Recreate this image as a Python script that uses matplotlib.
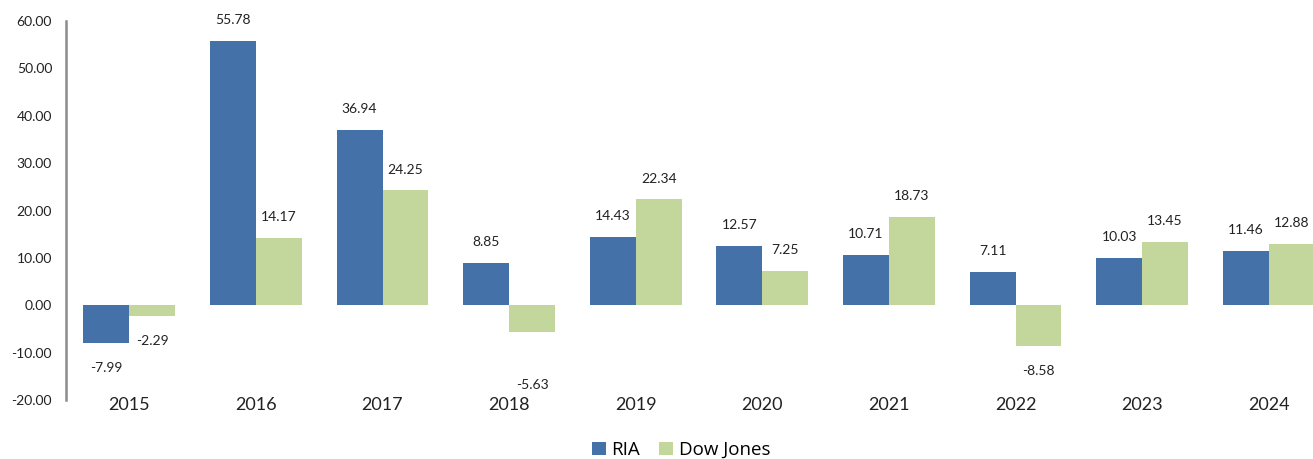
import matplotlib
matplotlib.use("Agg")
import matplotlib.pyplot as plt
import numpy as np

years = ["2015", "2016", "2017", "2018", "2019", "2020", "2021", "2022", "2023", "2024"]
ria = [-7.99, 55.78, 36.94, 8.85, 14.43, 12.57, 10.71, 7.11, 10.03, 11.46]
dow = [-2.29, 14.17, 24.25, -5.63, 22.34, 7.25, 18.73, -8.58, 13.45, 12.88]
yticks = [-20, -10, 0, 10, 20, 30, 40, 50, 60]

plt.rcParams['font.family'] = ['Lato', 'DejaVu Sans']

W, H = 1313, 459
fig = plt.figure(figsize=(W / 100, H / 100), dpi=100)
left_px, right_px, top_px, bot_px = 66, 1313, 21, 400
ax = fig.add_axes([left_px / W, 1 - bot_px / H, (right_px - left_px) / W, (bot_px - top_px) / H])

x = np.arange(len(years))
bw = 0.363
c_ria = "#4472A8"
c_dow = "#C3D69B"
b1 = ax.bar(x - bw / 2, ria, bw, color=c_ria, linewidth=0, label="RIA")
b2 = ax.bar(x + bw / 2, dow, bw, color=c_dow, linewidth=0, label="Dow Jones")

unit = 126.6
ax.set_xlim(-0.5, -0.5 + (right_px - left_px) / unit)
ax.set_ylim(-20, 60)

def label(bars, vals, extra):
    for b, v, e in zip(bars, vals, extra):
        cx = b.get_x() + b.get_width() / 2
        if v >= 0:
            ax.annotate(f"{v:.2f}", (cx, v), xytext=(0, 15), textcoords="offset points",
                        ha="center", va="center", fontsize=10, color="#222222")
        else:
            ax.annotate(f"{v:.2f}", (cx, v), xytext=(0, -18 - e), textcoords="offset points",
                        ha="center", va="center", fontsize=10, color="#222222")

label(b1, ria, [0] * 10)
label(b2, dow, [0, 0, 0, 20, 0, 0, 0, 0, 0, 0])

ax.set_yticks(yticks)
ax.set_yticklabels([f"{t:.2f}" for t in yticks], fontsize=10, color="#222222")
ax.set_xticks(x)
ax.set_xticklabels(years, fontsize=13, color="#222222")
ax.tick_params(axis="y", length=0, pad=10)
ax.tick_params(axis="x", length=0, pad=-2)

for s in ["top", "right", "bottom"]:
    ax.spines[s].set_visible(False)
ax.spines["left"].set_color("#8c8c8c")
ax.spines["left"].set_linewidth(1.8)

fig.legend(handles=[b1, b2], labels=["RIA", "Dow Jones"], loc="center", bbox_to_anchor=(681 / W, 1 - 450 / H),
           ncol=2, frameon=False, handlelength=0.75, handleheight=0.75,
           handletextpad=0.3, columnspacing=1.0, prop={"family": ["Open Sans", "DejaVu Sans"], "size": 13.5})

fig.savefig("out.png", dpi=100)
